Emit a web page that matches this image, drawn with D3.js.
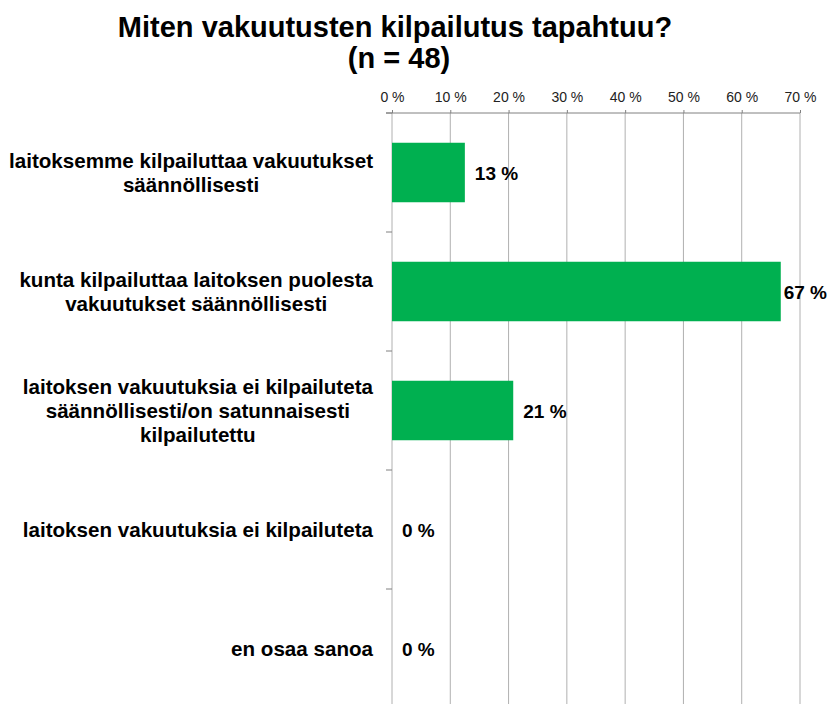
<!DOCTYPE html>
<html>
<head>
<meta charset="utf-8">
<script src="https://cdn.jsdelivr.net/npm/d3@7"></script>
<style>
  html, body { margin: 0; padding: 0; background: #fff; }
  svg { display: block; font-family: "Liberation Sans", Arial, sans-serif; }
</style>
</head>
<body>
<div id="chart"></div>
<script>
// chart data
var titleLines = ["Miten vakuutusten kilpailutus tapahtuu?", "(n = 48)"];
var categories = [
  ["laitoksemme kilpailuttaa vakuutukset", "säännöllisesti"],
  ["kunta kilpailuttaa laitoksen puolesta", "vakuutukset säännöllisesti"],
  ["laitoksen vakuutuksia ei kilpailuteta", "säännöllisesti/on satunnaisesti", "kilpailutettu"],
  ["laitoksen vakuutuksia ei kilpailuteta"],
  ["en osaa sanoa"]
];
var values = [12.5, 66.7, 20.8, 0, 0];
var tickValues = [0, 10, 20, 30, 40, 50, 60, 70];

var width = 829, height = 704;
var plot = {left: 392, right: 800, top: 113, bottom: 708};

var svg = d3.select("#chart").append("svg")
  .attr("width", width)
  .attr("height", height);

// title
svg.append("text")
  .attr("text-anchor", "middle")
  .attr("font-size", 29)
  .attr("font-weight", "bold")
  .attr("fill", "#000")
  .selectAll("tspan")
  .data(titleLines)
  .enter().append("tspan")
  .attr("x", (d, i) => i == 0 ? 395 : 399)
  .attr("y", (d, i) => 37 + i * 31)
  .text(d => d);

var x = d3.scaleLinear().domain([0, 70]).range([plot.left, plot.right]);
var y = d3.scaleBand()
  .domain(d3.range(categories.length))
  .range([plot.top, plot.bottom])
  .paddingInner(0.5)
  .paddingOuter(0.25);
var step = y.step();

// gridlines
svg.append("g")
  .selectAll("line")
  .data(tickValues)
  .enter().append("line")
  .attr("x1", d => x(d)).attr("x2", d => x(d))
  .attr("y1", plot.top).attr("y2", plot.bottom)
  .attr("stroke", "#b0b0b0")
  .attr("stroke-width", 1);

// top axis
var axis = d3.axisTop(x)
  .tickValues(tickValues)
  .tickSize(3)
  .tickPadding(8)
  .tickFormat(d => d + " %");

var axisGroup = svg.append("g")
  .attr("transform", "translate(0," + plot.top + ")")
  .call(axis);
axisGroup.select(".domain").remove();
axisGroup.selectAll(".tick line").attr("stroke", "#808080");
axisGroup.selectAll(".tick text")
  .attr("font-size", 14)
  .attr("font-family", "Liberation Sans, Arial, sans-serif")
  .attr("fill", "#222");
axisGroup.append("line")
  .attr("x1", plot.left - 6).attr("x2", plot.right)
  .attr("y1", 0).attr("y2", 0)
  .attr("stroke", "#808080");

// category axis ticks at band boundaries
var boundaries = d3.range(categories.length + 1).map(i => plot.top + i * step);
svg.append("g")
  .selectAll("line")
  .data(boundaries)
  .enter().append("line")
  .attr("x1", plot.left - 6).attr("x2", plot.left)
  .attr("y1", d => d).attr("y2", d => d)
  .attr("stroke", "#808080");

// bars
svg.append("g")
  .selectAll("rect")
  .data(values)
  .enter().append("rect")
  .attr("x", x(0))
  .attr("y", (d, i) => y(i))
  .attr("width", d => x(d) - x(0))
  .attr("height", y.bandwidth())
  .attr("fill", "#00b050");

// value labels
svg.append("g")
  .selectAll("text")
  .data(values)
  .enter().append("text")
  .attr("font-size", 19)
  .attr("font-weight", "bold")
  .attr("fill", "#000")
  .attr("y", (d, i) => y(i) + y.bandwidth() / 2 + 7)
  .text(d => Math.round(d) + " %")
  .attr("x", function(d) {
    var w = this.getComputedTextLength();
    return Math.min(x(d) + 10, width - 2 - w);
  });

// category labels, centred lines in a right-aligned block
var lineHeight = 24;
var catGroups = svg.append("g")
  .selectAll("g")
  .data(categories)
  .enter().append("g");

catGroups.each(function(lines, i) {
  var g = d3.select(this);
  var cy = y(i) + y.bandwidth() / 2;
  var texts = g.selectAll("text")
    .data(lines)
    .enter().append("text")
    .attr("font-size", 20.6)
    .attr("font-weight", "bold")
    .attr("fill", "#000")
    .attr("text-anchor", "middle")
    .attr("y", (d, j) => cy - (lines.length - 1) / 2 * lineHeight + j * lineHeight + 7)
    .text(d => d);
  var maxW = d3.max(texts.nodes(), n => n.getComputedTextLength());
  texts.attr("x", 373 - maxW / 2);
});
</script>
</body>
</html>
